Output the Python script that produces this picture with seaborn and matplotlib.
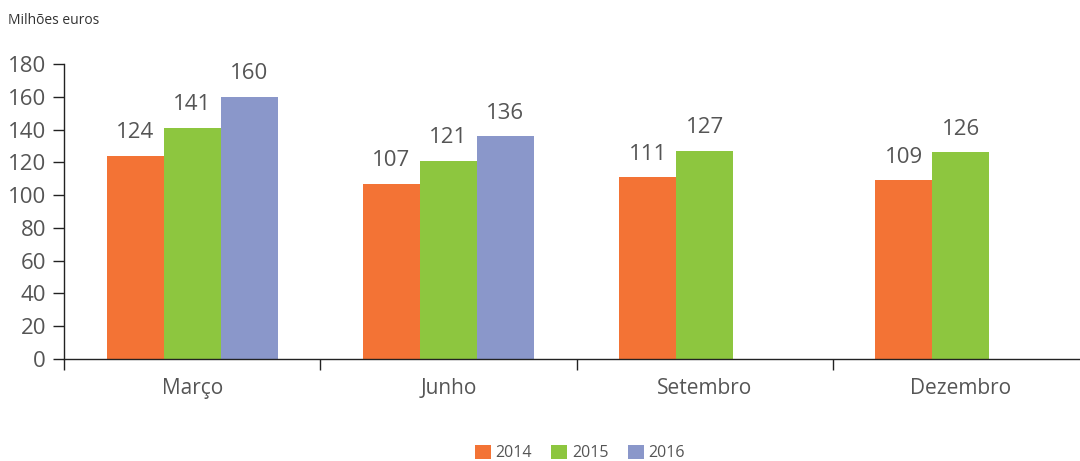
import numpy as np
import pandas as pd
import matplotlib
matplotlib.use('Agg')
import matplotlib.pyplot as plt
import seaborn as sns

# data
meses = ['Março', 'Junho', 'Setembro', 'Dezembro']
anos = ['2014', '2015', '2016']
v2014 = [124, 107, 111, 109]
v2015 = [141, 121, 127, 126]
v2016 = [160, 136, np.nan, np.nan]
cores = ['#F37335', '#8DC63F', '#8A97CA']

df = pd.DataFrame({
    'mes': meses * 3,
    'ano': ['2014'] * 4 + ['2015'] * 4 + ['2016'] * 4,
    'valor': v2014 + v2015 + v2016,
})

sns.set_style('white')
plt.rcParams['font.family'] = ['Open Sans', 'DejaVu Sans']
cinza = '#555555'

fig = plt.figure(figsize=(10.8, 4.61), dpi=100)
# the axis runs slightly past the right edge of the picture
ax = fig.add_axes([64 / 1080, 1 - 359 / 461, 1025 / 1080, 295 / 461])

sns.barplot(data=df, x='mes', y='valor', hue='ano', order=meses, hue_order=anos,
            palette=cores, width=0.667, saturation=1, linewidth=0, ax=ax, legend=True)

# value labels
for cont in ax.containers:
    labels = ['' if np.isnan(v) else f'{v:.0f}' for v in cont.datavalues]
    ax.bar_label(cont, labels=labels, padding=9, fontsize=16, color=cinza)

ax.set_ylim(0, 180)
ax.set_yticks(range(0, 181, 20))
ax.set_xlim(-0.5, 3.5)
ax.set_xlabel('')
ax.set_ylabel('')
sns.despine(ax=ax, top=True, right=True)
for s in ['left', 'bottom']:
    ax.spines[s].set_color('#222222')
    ax.spines[s].set_linewidth(1)

ax.tick_params(axis='y', which='major', length=8, width=1, color='#222222',
               labelsize=16, labelcolor=cinza, pad=5, left=True, direction='out')
ax.tick_params(axis='x', which='major', length=0, labelsize=15, labelcolor=cinza, pad=14)
ax.set_xticks([-0.5, 0.5, 1.5, 2.5], minor=True)
ax.tick_params(axis='x', which='minor', length=8, width=1, color='#222222',
               bottom=True, direction='out')

fig.text(8 / 1080, 1 - 21 / 461, 'Milhões euros', fontsize=10, color='#333333', va='center')

ax.legend(loc='center', bbox_to_anchor=(580 / 1080, 1 - 453 / 461),
          bbox_transform=fig.transFigure, ncol=3, frameon=False,
          fontsize=11.5, handlelength=1.0, handleheight=1.0, handletextpad=0.3,
          columnspacing=1.2, labelcolor=cinza)

fig.savefig('out.png', dpi=100)
